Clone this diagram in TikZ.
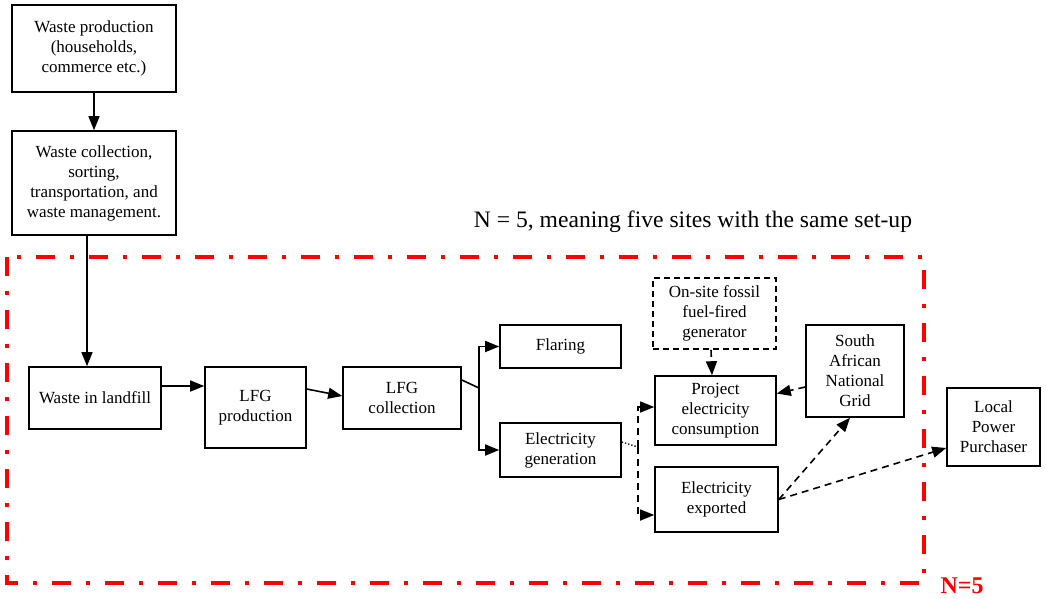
\documentclass[tikz,border=0pt]{standalone}
\usepackage{fontspec}
\setmainfont{Liberation Serif}
\usetikzlibrary{arrows.meta}
\begin{document}
\begin{tikzpicture}[x=1pt,y=-1pt,
  box/.style={draw, line width=1.6pt, align=center, inner sep=2pt, font=\fontsize{17}{20}\selectfont},
  dbox/.style={box, dash pattern=on 6pt off 4pt},
  arr/.style={line width=1.6pt, -{Triangle[length=14pt,width=11pt]}},
  darr/.style={arr, dash pattern=on 7pt off 5pt},
  frame/.style={draw=red, line width=4.5pt, dash pattern=on 19pt off 15pt on 4pt off 15pt}]
\useasboundingbox (0,0) rectangle (1046,599);
% red frame
\draw[frame] (7,257) rectangle (924,583);
\node[font=\fontsize{23.6}{27}\selectfont] (title) at (693,222) {N = 5, meaning five sites with the same set-up};
\node[text=red, font=\fontsize{24}{28}\selectfont\bfseries] (n5) at (962,586) {N=5};
% boxes
\node[box, minimum width=164pt, minimum height=87pt] (wp) at (94,48.5) {Waste production\\(households,\\commerce etc.)};
\node[box, minimum width=164pt, minimum height=104pt] (wc) at (94,183) {Waste collection,\\sorting,\\transportation, and\\waste management.};
\node[box, minimum width=132pt, minimum height=62pt] (wl) at (95,398) {Waste in landfill};
\node[box, minimum width=101pt, minimum height=81pt] (lp) at (255.5,407.5) {LFG\\production};
\node[box, minimum width=118pt, minimum height=62pt] (lc) at (402,398) {LFG\\collection};
\node[box, minimum width=121pt, minimum height=43pt] (fl) at (560.5,346.5) {Flaring};
\node[box, minimum width=121pt, minimum height=54pt] (eg) at (560.5,450) {Electricity\\generation};
\node[dbox, minimum width=123pt, minimum height=71pt] (fos) at (714.5,313.5) {On-site fossil\\fuel-fired\\generator};
\node[box, minimum width=121pt, minimum height=69pt] (pc) at (715.5,410.5) {Project\\electricity\\consumption};
\node[box, minimum width=98pt, minimum height=92pt] (grid) at (855,371) {South\\African\\National\\Grid};
\node[box, minimum width=123pt, minimum height=65pt] (ee) at (716.5,499.5) {Electricity\\exported};
\node[box, minimum width=93pt, minimum height=78pt] (lpp) at (993.5,427) {Local\\Power\\Purchaser};
% connectors
\draw[arr] (wp.south) -- (wc.north);
\draw[arr] ([xshift=-7pt]wc.south) -- ([xshift=-8pt]wl.north);
\draw[arr] ([yshift=12pt]wl.east) -- ([yshift=12pt]wl.east -| lp.west);
\draw[arr] ([yshift=18.5pt]lp.east) -- ([yshift=2pt]lc.west);
\coordinate (br) at (479,388);
\draw[line width=1.6pt] ([yshift=18pt]lc.east) -- (br);
\draw[arr] (br) |- (fl.west);
\draw[arr] (br) |- (eg.west);
\coordinate (jn) at (638,447);
\draw[line width=1.3pt, dotted] ([yshift=8pt]eg.east) -- (jn);
\draw[darr] (jn) |- ([yshift=3.5pt]pc.west);
\draw[darr] (jn) |- ([yshift=-15.5pt]ee.west);
\draw[darr] ([xshift=-3.5pt]fos.south) -- ([xshift=-3.5pt]pc.north);
\draw[darr] ([yshift=-16pt]grid.west) -- ([yshift=17pt]pc.east);
\draw[darr] (ee.east) -- ([xshift=-5pt]grid.south);
\draw[darr] (ee.east) -- ([yshift=-21pt]lpp.west);
\end{tikzpicture}
\end{document}
